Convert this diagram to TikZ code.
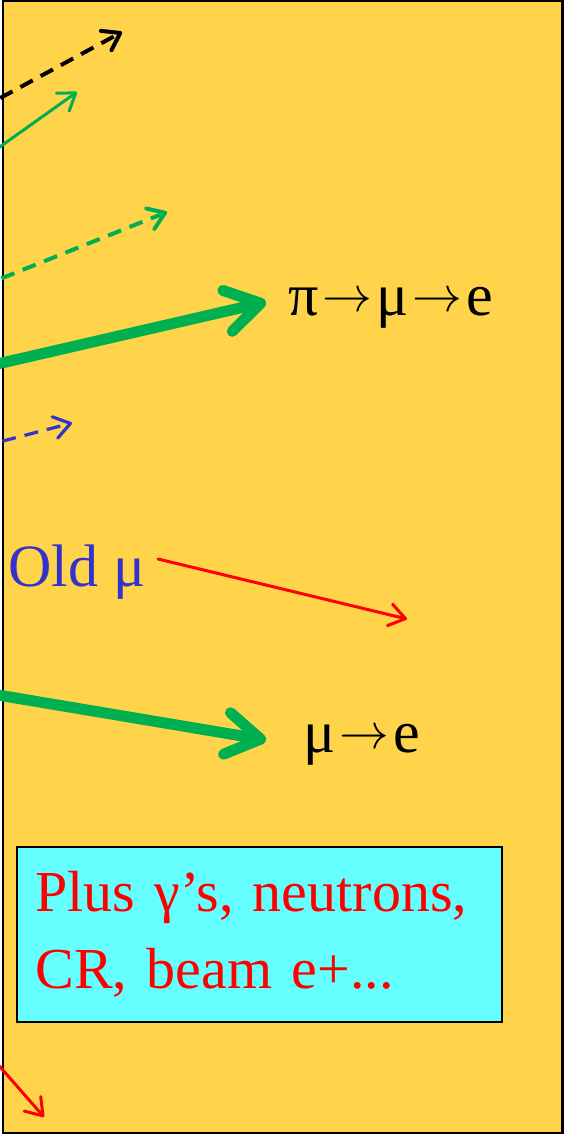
\documentclass[tikz,border=0pt]{standalone}
\usepackage{fontspec}
\setmainfont{Liberation Serif}
\usetikzlibrary{arrows.meta, positioning}
\definecolor{panelYellow}{HTML}{FFD44B}
\definecolor{trackGreen}{HTML}{00B050}
\definecolor{trackBlue}{HTML}{3333CC}
\definecolor{trackRed}{HTML}{FF0000}
\definecolor{noteCyan}{HTML}{66FFFF}
\newcommand{\decayto}{\kern2pt\raisebox{2pt}{\fontsize{28}{28}\selectfont$\rightarrow$}\kern2pt}
\tikzset{
  arrowThin/.style={-{Straight Barb[length=8pt, width=11pt, round]},
                    line width=1.5pt, line cap=round},
  arrowDash/.style={arrowThin, line width=2pt, line cap=butt,
                    dash pattern=on 7pt off 4.5pt},
  arrowFat/.style={-{Straight Barb[length=17pt, width=21pt, round]},
                   trackGreen, line width=5.5pt},
  labelTxt/.style={anchor=base west, inner sep=0pt,
                   font=\fontsize{30}{38.5}\selectfont},
  noteBox/.style={rectangle, draw=black, line width=1pt, fill=noteCyan,
                  text=trackRed, align=left, text width=224pt,
                  minimum width=242.5pt, minimum height=87.5pt,
                  inner xsep=9pt, font=\fontsize{29}{38.5}\selectfont},
}
\begin{document}
\begin{tikzpicture}[x=0.5pt, y=-0.5pt]
    \useasboundingbox (0,0) rectangle (565,1134);
    \clip (0,0) rectangle (565,1134);
    \draw[fill=panelYellow, line width=1.2pt] (3,0.5) rectangle (562.5,1133.5);

    % track ends, coming in from the left
    \coordinate (blackS) at (-20,109);   \coordinate (blackE) at (122,32);
    \coordinate (greenS) at (-20,161);   \coordinate (greenE) at (77,92);
    \coordinate (gdashS) at (-20,287);   \coordinate (gdashE) at (167,212);
    \coordinate (pimuS)  at (-20,368);   \coordinate (pimuE)  at (266,302);
    \coordinate (bdashS) at (-20,447);   \coordinate (bdashE) at (72,423);
    \coordinate (oldS)   at (158,559);   \coordinate (oldE)   at (407,619);
    \coordinate (mueS)   at (-20,692);   \coordinate (mueE)   at (266,740);
    \coordinate (lowS)   at (-20,1044);  \coordinate (lowE)   at (44,1117);

    \node[labelTxt] (pimu) at (288,315) {π\decayto μ\decayto e};
    \node[labelTxt, text=trackBlue] (oldmu) at (8,586) {Old μ};
    \node[labelTxt] (mue) at (303,752) {μ\decayto e};
    \node[noteBox] (note) at (259.5,934.5)
      {Plus γ’s, neutrons,\\CR, beam e+...};

    \draw[arrowDash, black] (blackS) -- (blackE);
    \draw[arrowThin, trackGreen] (greenS) -- (greenE);
    \draw[arrowDash, trackGreen] (gdashS) -- (gdashE);
    \draw[arrowFat] (pimuS) -- (pimuE);
    \draw[arrowDash, trackBlue, line width=1.6pt] (bdashS) -- (bdashE);
    \draw[arrowThin, trackRed] (oldS) -- (oldE);
    \draw[arrowFat] (mueS) -- (mueE);
    \draw[arrowThin, trackRed] (lowS) -- (lowE);
  \end{tikzpicture}
\end{document}
